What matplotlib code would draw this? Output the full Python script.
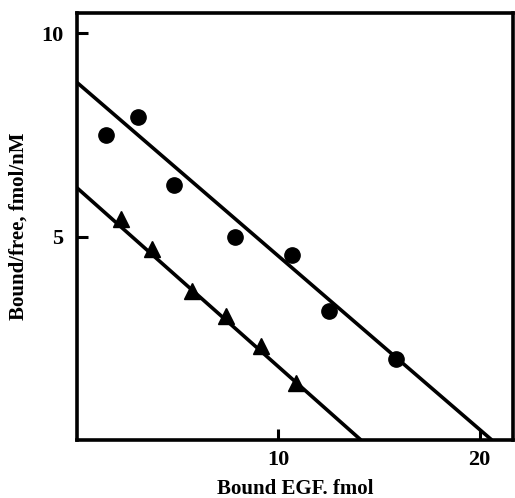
import numpy as np
import matplotlib
matplotlib.use("Agg")
import matplotlib.pyplot as plt

# Scatchard plot data
circle_x = [1.44, 3.03, 4.83, 7.86, 10.70, 12.54, 15.82]
circle_y = [7.51, 7.93, 6.26, 5.00, 4.56, 3.18, 2.00]
tri_x = [2.19, 3.73, 5.72, 7.41, 9.15, 10.90]
tri_y = [5.44, 4.70, 3.67, 3.05, 2.32, 1.40]

# fitted lines: (y intercept, x intercept)
circle_fit = (8.79, 20.6)
tri_fit = (6.20, 14.1)

plt.rcParams['font.family'] = ['Liberation Serif', 'DejaVu Serif']

fig = plt.figure(figsize=(5.15, 4.98), dpi=100)
ax = fig.add_axes([0.1495, 0.1165, 0.8465, 0.8575])

for b, xi in (circle_fit, tri_fit):
    xs = np.array([0, xi])
    ax.plot(xs, b - b / xi * xs, color='black', linewidth=2.6, solid_capstyle='butt')

ax.plot(circle_x, circle_y, 'o', color='black', markersize=11, linestyle='none')
ax.plot(tri_x, tri_y, '^', color='black', markersize=11.5, linestyle='none')

ax.set_xlim(0, 21.65)
ax.set_ylim(0, 10.5)
ax.set_xticks([10, 20])
ax.set_yticks([5, 10])
ax.tick_params(direction='in', length=8, width=2.2, labelsize=16)
ax.tick_params(axis='x', pad=7)
ax.tick_params(axis='y', pad=10)
for lab in ax.get_xticklabels() + ax.get_yticklabels():
    lab.set_fontweight('bold')
for s in ax.spines.values():
    s.set_linewidth(2.6)

ax.set_xlabel('Bound EGF. fmol', fontsize=15, fontweight='bold', labelpad=7)
ax.set_ylabel('Bound/free, fmol/nM', fontsize=15, fontweight='bold', labelpad=9)

fig.savefig('out.png', dpi=100)
